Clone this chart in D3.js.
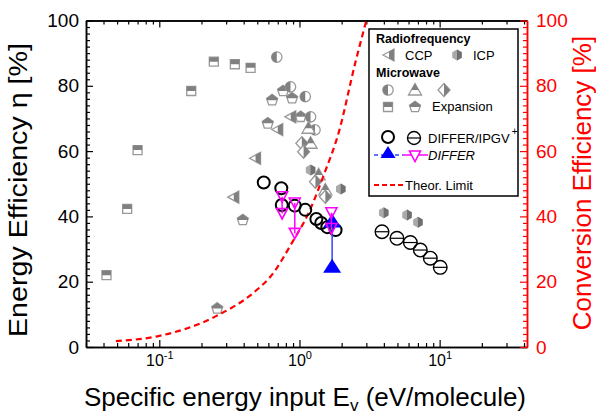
<!DOCTYPE html>
<html>
<head>
<meta charset="utf-8">
<script src="https://cdn.jsdelivr.net/npm/d3@7"></script>
<style>
  body { margin: 0; background: #fff; }
  text { font-family: Arial, "Liberation Sans", sans-serif; }
</style>
</head>
<body>
<svg id="chart" width="596" height="416"></svg>
<script>
// ---- data ----
// Microwave, expansion (squares and pentagons)
var expSquareX = [0.042, 0.059, 0.070, 0.169, 0.245, 0.346, 0.448];
var expSquareY = [22.0, 42.3, 60.3, 78.4, 87.4, 86.6, 85.5];
var expPentX = [0.259, 0.394, 0.594, 0.638, 0.764, 0.886, 1.02];
var expPentY = [11.8, 38.9, 68.5, 75.6, 78.4, 76.2, 70.5];
// Radiofrequency
var ccpX = [0.340, 0.486, 0.700, 0.867];
var ccpY = [45.9, 57.8, 66.6, 70.5];
var icpX = [1.20, 1.97, 3.99, 5.85, 7.0];
var icpY = [54.2, 48.4, 41.1, 40.4, 38.2];
// Microwave
var mwCircX = [0.689, 0.863, 1.10, 1.20, 1.29];
var mwCircY = [88.8, 79.7, 76.7, 70.5, 66.5];
var mwTriX = [1.16, 1.20, 1.37, 1.53];
var mwTriY = [67.0, 62.4, 52.7, 48.1];
var mwDiaX = [1.04, 1.07, 1.30, 1.53];
var mwDiaY = [62.4, 59.8, 50.6, 46.0];
// DIFFER/IPGV+
var ipgvX = [0.556, 0.742, 0.748, 0.926, 1.10, 1.32, 1.43, 1.58, 1.81];
var ipgvY = [50.4, 48.6, 43.5, 43.3, 42.0, 39.2, 38.0, 36.7, 35.8];
var ipgvBarX = [3.88, 4.96, 6.18, 7.28, 8.58, 10.1];
var ipgvBarY = [35.3, 33.3, 32.0, 29.7, 27.2, 24.4];
// DIFFER
var differBlueX = [1.71];
var differBlueHi = [38.4];
var differBlueLo = [24.6];
var differMagX = [0.752, 0.926, 1.69];
var differMagHi = [46.0, 44.1, 41.1];
var differMagLo = [40.9, 34.8, 36.3];
// theoretical limit
var theorX = [0.049, 0.1, 0.25, 0.5, 0.62, 0.9, 1.16, 1.5, 1.9, 2.5, 3.0];
var theorY = [1.8, 3.4, 9.3, 17.6, 21.5, 32.5, 41, 53, 65.5, 87, 100];

var xMajor = [0.1, 1, 10];
var yMajor = [0, 20, 40, 60, 80, 100];

var svg = d3.select("#chart");
var GRAY = "#808080";

var x = d3.scaleLog().domain([0.03, 42]).range([86, 527]);
var y = d3.scaleLinear().domain([0, 100]).range([347, 20.5]);

// clip paths for half filled symbols (local marker coords)
var defs = svg.append("defs");
[["top", -20, -20, 40, 20], ["right", 0, -20, 20, 40], ["left", -20, -20, 20, 40]].forEach(function (c) {
  defs.append("clipPath").attr("id", "clip-" + c[0])
    .append("rect").attr("x", c[1]).attr("y", c[2]).attr("width", c[3]).attr("height", c[4]);
});

function poly(pts) { return "M" + pts.map(function (p) { return p[0].toFixed(2) + "," + p[1].toFixed(2); }).join("L") + "Z"; }
function regular(n, r) {
  return d3.range(n).map(function (i) { var a = i * 2 * Math.PI / n; return [r * Math.sin(a), -r * Math.cos(a)]; });
}
function circ(r) { return "M" + (-r) + ",0A" + r + "," + r + " 0 1,0 " + r + ",0A" + r + "," + r + " 0 1,0 " + (-r) + ",0Z"; }

var shapePath = {
  square: poly([[-4.5, -4.5], [4.5, -4.5], [4.5, 4.5], [-4.5, 4.5]]),
  pent: poly(regular(5, 5.8)),
  tri: poly([[-6, 0], [5, -6], [5, 6]]),
  up: poly([[0, -6.5], [6.5, 5], [-6.5, 5]]),
  diamond: poly([[0, -6.5], [6, 0], [0, 6.5], [-6, 0]]),
  hex: poly(regular(6, 5.5)),
  half: circ(5.2)
};

function drawSymbol(sel, shape, half) {
  if (shape == "hex") {
    sel.append("path").attr("d", shapePath.hex).attr("fill", "#aaaaaa");
    sel.append("path").attr("d", shapePath.hex).attr("fill", "#707070").attr("clip-path", "url(#clip-right)");
    return;
  }
  sel.append("path").attr("d", shapePath[shape]).attr("fill", "#fff")
    .attr("stroke", "#999").attr("stroke-width", 1.3);
  sel.append("path").attr("d", shapePath[shape]).attr("fill", GRAY)
    .attr("clip-path", "url(#clip-" + half + ")");
}

function markers(xs, ys, shape, half) {
  svg.append("g").selectAll("g")
    .data(xs.map(function (v, i) { return [v, ys[i]]; }))
    .join("g")
    .attr("transform", function (d) { return "translate(" + x(d[0]) + "," + y(d[1]) + ")"; })
    .each(function () { drawSymbol(d3.select(this), shape, half); });
}

// ---- axes ----
function minorLog() {
  var v = [];
  [0.01, 0.1, 1, 10].forEach(function (dec) {
    for (var k = 2; k <= 9; k++) { var t = k * dec; if (t >= 0.03 && t <= 42) v.push(t); }
  });
  return v;
}
var yMinor = d3.range(0, 101, 2).filter(function (v) { return v % 20 != 0; });

function styleAxis(g, color) {
  g.select(".domain").attr("stroke", color).attr("stroke-width", 1.5);
  g.selectAll(".tick line").attr("stroke", color).attr("stroke-width", 1.2);
}

var gb = svg.append("g").attr("transform", "translate(0,347)")
  .call(d3.axisBottom(x).tickValues(xMajor).tickSizeInner(-7).tickSizeOuter(0).tickPadding(6).tickFormat(""));
styleAxis(gb, "#000");
gb.selectAll(".tick text").attr("y", 19).attr("dy", 0).attr("fill", "#000").attr("font-size", 16)
  .each(function (d) {
    var t = d3.select(this);
    t.append("tspan").text("10");
    t.append("tspan").attr("dy", -7).attr("font-size", 11).text(Math.round(Math.log10(d)));
  });
var gbm = svg.append("g").attr("transform", "translate(0,347)")
  .call(d3.axisBottom(x).tickValues(minorLog()).tickSizeInner(-4).tickSizeOuter(0).tickFormat(""));
styleAxis(gbm, "#000");

var gt = svg.append("g").attr("transform", "translate(0,20.5)")
  .call(d3.axisTop(x).tickValues(xMajor).tickSizeInner(-7).tickSizeOuter(0).tickFormat(""));
styleAxis(gt, "#000");
var gtm = svg.append("g").attr("transform", "translate(0,20.5)")
  .call(d3.axisTop(x).tickValues(minorLog()).tickSizeInner(-4).tickSizeOuter(0).tickFormat(""));
styleAxis(gtm, "#000");

var gl = svg.append("g").attr("transform", "translate(86,0)")
  .call(d3.axisLeft(y).tickValues(yMajor).tickSizeInner(-7).tickSizeOuter(0).tickPadding(7));
styleAxis(gl, "#000");
gl.selectAll(".tick text").attr("font-size", 19).attr("font-family", "Arial, 'Liberation Sans', sans-serif").attr("fill", "#000");
var glm = svg.append("g").attr("transform", "translate(86,0)")
  .call(d3.axisLeft(y).tickValues(yMinor).tickSizeInner(-4).tickSizeOuter(0).tickFormat(""));
styleAxis(glm, "#000");

var gr = svg.append("g").attr("transform", "translate(527,0)")
  .call(d3.axisRight(y).tickValues(yMajor).tickSizeInner(-7).tickSizeOuter(0).tickPadding(9));
styleAxis(gr, "#ff0000");
gr.selectAll(".tick text").attr("font-size", 19).attr("font-family", "Arial, 'Liberation Sans', sans-serif").attr("fill", "#ff0000");
var grm = svg.append("g").attr("transform", "translate(527,0)")
  .call(d3.axisRight(y).tickValues(yMinor).tickSizeInner(-4).tickSizeOuter(0).tickFormat(""));
styleAxis(grm, "#ff0000");

// ---- titles ----
var xt = svg.append("text").attr("x", 305).attr("y", 406).attr("text-anchor", "middle")
  .attr("font-size", 26).attr("fill", "#000");
xt.append("tspan").text("Specific energy input E");
xt.append("tspan").attr("font-size", 17).attr("dy", 5).text("v");
xt.append("tspan").attr("dy", -5).text(" (eV/molecule)");

svg.append("text").attr("transform", "translate(27,190) rotate(-90)").attr("text-anchor", "middle")
  .attr("font-size", 26).attr("fill", "#000").attr("textLength", 294).attr("lengthAdjust", "spacingAndGlyphs")
  .text("Energy Efficiency \u03b7 [%]");
svg.append("text").attr("transform", "translate(591,183) rotate(-90)").attr("text-anchor", "middle")
  .attr("font-size", 26).attr("fill", "#ff0000")
  .text("Conversion Efficiency [%]");

// ---- data marks ----
markers(expSquareX, expSquareY, "square", "top");
markers(expPentX, expPentY, "pent", "top");
markers(ccpX, ccpY, "tri", "right");
markers(icpX, icpY, "hex", "right");
markers(mwCircX, mwCircY, "half", "left");
markers(mwTriX, mwTriY, "up", "top");
markers(mwDiaX, mwDiaY, "diamond", "right");

var theor = d3.zip(theorX, theorY);
svg.append("path").datum(theor)
  .attr("d", d3.line().x(function (d) { return x(d[0]); }).y(function (d) { return y(d[1]); }).curve(d3.curveMonotoneX))
  .attr("fill", "none").attr("stroke", "#ff0000").attr("stroke-width", 2.2).attr("stroke-dasharray", "6,4");

svg.append("g").selectAll("circle").data(d3.zip(ipgvX, ipgvY)).join("circle")
  .attr("cx", function (d) { return x(d[0]); }).attr("cy", function (d) { return y(d[1]); })
  .attr("r", 6).attr("fill", "none").attr("stroke", "#000").attr("stroke-width", 2);

var bar = svg.append("g").selectAll("g").data(d3.zip(ipgvBarX, ipgvBarY)).join("g")
  .attr("transform", function (d) { return "translate(" + x(d[0]) + "," + y(d[1]) + ")"; });
bar.append("circle").attr("r", 6.8).attr("fill", "none").attr("stroke", "#000").attr("stroke-width", 1.4);
bar.append("line").attr("x1", -6.8).attr("x2", 6.8).attr("stroke", "#000").attr("stroke-width", 1.2);

var upTri = poly([[0, -8], [9, 6], [-9, 6]]);
var downTri = poly([[-5.5, -5], [5.5, -5], [0, 5.5]]);

var blue = svg.append("g").selectAll("g").data(d3.zip(differBlueX, differBlueHi, differBlueLo)).join("g");
blue.append("line").attr("x1", function (d) { return x(d[0]); }).attr("x2", function (d) { return x(d[0]); })
  .attr("y1", function (d) { return y(d[1]); }).attr("y2", function (d) { return y(d[2]); })
  .attr("stroke", "#3344ff").attr("stroke-width", 1.5);
blue.append("path").attr("d", upTri).attr("fill", "#0000ff")
  .attr("transform", function (d) { return "translate(" + x(d[0]) + "," + y(d[1]) + ")"; });
blue.append("path").attr("d", upTri).attr("fill", "#0000ff")
  .attr("transform", function (d) { return "translate(" + x(d[0]) + "," + y(d[2]) + ")"; });

var mag = svg.append("g").selectAll("g").data(d3.zip(differMagX, differMagHi, differMagLo)).join("g");
mag.append("line").attr("x1", function (d) { return x(d[0]); }).attr("x2", function (d) { return x(d[0]); })
  .attr("y1", function (d) { return y(d[1]); }).attr("y2", function (d) { return y(d[2]); })
  .attr("stroke", "#ff00ff").attr("stroke-width", 1.5);
mag.append("path").attr("d", downTri).attr("fill", "none").attr("stroke", "#ff00ff").attr("stroke-width", 1.6)
  .attr("transform", function (d) { return "translate(" + x(d[0]) + "," + y(d[1]) + ")"; });
mag.append("path").attr("d", downTri).attr("fill", "none").attr("stroke", "#ff00ff").attr("stroke-width", 1.6)
  .attr("transform", function (d) { return "translate(" + x(d[0]) + "," + y(d[2]) + ")"; });

// ---- legend ----
var lg = svg.append("g");
lg.append("rect").attr("x", 369).attr("y", 29).attr("width", 149).attr("height", 167)
  .attr("fill", "#fff").attr("stroke", "#000").attr("stroke-width", 1.5);
function ltext(tx, ty, s, opt) {
  var t = lg.append("text").attr("x", tx).attr("y", ty).attr("font-size", 13).attr("fill", "#000").text(s);
  if (opt == "bold") t.attr("font-weight", "bold").attr("font-size", 12.5);
  if (opt == "italic") t.attr("font-style", "italic");
  return t;
}
function licon(shape, half, cx, cy) {
  drawSymbol(lg.append("g").attr("transform", "translate(" + cx + "," + cy + ")"), shape, half);
}
ltext(376, 43, "Radiofrequency", "bold");
licon("tri", "right", 389, 55);
ltext(405, 60, "CCP");
licon("hex", "right", 457, 55);
ltext(473, 60, "ICP");
ltext(376, 77, "Microwave", "bold");
licon("half", "left", 388, 90);
licon("up", "top", 415, 90);
licon("diamond", "right", 444, 90);
licon("square", "top", 388, 107);
licon("pent", "top", 415, 107);
ltext(432, 111, "Expansion");

lg.append("circle").attr("cx", 388).attr("cy", 137).attr("r", 6).attr("fill", "none").attr("stroke", "#000").attr("stroke-width", 2);
lg.append("circle").attr("cx", 414).attr("cy", 138).attr("r", 6.5).attr("fill", "none").attr("stroke", "#000").attr("stroke-width", 1.4);
lg.append("line").attr("x1", 407.5).attr("x2", 420.5).attr("y1", 138).attr("y2", 138).attr("stroke", "#000").attr("stroke-width", 1.2);
var ip = ltext(428, 143, "DIFFER/IPGV");
ip.append("tspan").attr("dx", 2).attr("dy", -8).attr("font-size", 10).text("+");

lg.append("line").attr("x1", 374).attr("x2", 403).attr("y1", 155).attr("y2", 155)
  .attr("stroke", "#3344ff").attr("stroke-width", 1.5).attr("stroke-dasharray", "4,3");
lg.append("path").attr("d", poly([[0, -7], [7.5, 5], [-7.5, 5]])).attr("fill", "#0000ff").attr("transform", "translate(388,153)");
lg.append("line").attr("x1", 403).attr("x2", 428).attr("y1", 155).attr("y2", 155).attr("stroke", "#ff00ff").attr("stroke-width", 1.5);
lg.append("path").attr("d", downTri).attr("fill", "#fff").attr("stroke", "#ff00ff").attr("stroke-width", 1.6).attr("transform", "translate(415,156)");
ltext(428, 160, "DIFFER", "italic");

lg.append("line").attr("x1", 374).attr("x2", 403).attr("y1", 185).attr("y2", 185)
  .attr("stroke", "#ff0000").attr("stroke-width", 2.2).attr("stroke-dasharray", "5,3");
ltext(405, 190, "Theor. Limit");
</script>
</body>
</html>
